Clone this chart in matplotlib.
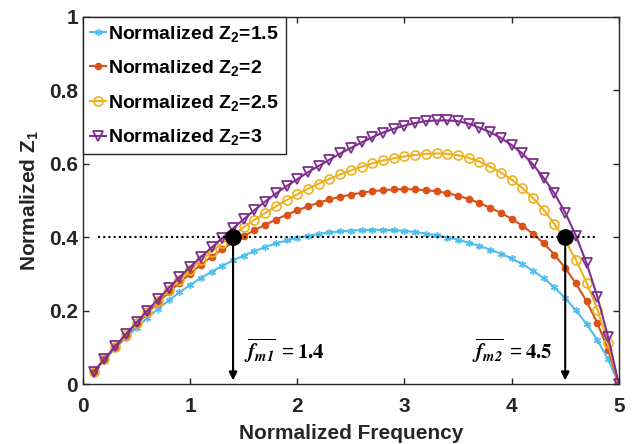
import matplotlib
matplotlib.use("Agg")
import matplotlib.pyplot as plt
import numpy as np

plt.rcParams['font.family'] = ['Liberation Sans', 'DejaVu Sans']
plt.rcParams['mathtext.default'] = 'regular'

freq = [round(0.1 * i, 1) for i in range(1, 51)]

z2_15 = [0.034, 0.066, 0.097, 0.126, 0.154, 0.180, 0.205, 0.228, 0.250, 0.270,
         0.289, 0.306, 0.322, 0.337, 0.350, 0.362, 0.373, 0.383, 0.391, 0.398,
         0.404, 0.409, 0.413, 0.416, 0.418, 0.419, 0.420, 0.420, 0.419, 0.417,
         0.414, 0.410, 0.405, 0.399, 0.393, 0.385, 0.376, 0.366, 0.355, 0.342,
         0.327, 0.309, 0.288, 0.263, 0.234, 0.201, 0.163, 0.120, 0.068, 0.0]

z2_2 = [0.034, 0.067, 0.100, 0.132, 0.163, 0.193, 0.222, 0.250, 0.276, 0.301,
        0.325, 0.347, 0.367, 0.386, 0.403, 0.419, 0.434, 0.448, 0.461, 0.473,
        0.484, 0.494, 0.503, 0.510, 0.516, 0.521, 0.525, 0.528, 0.530, 0.531,
        0.530, 0.528, 0.525, 0.520, 0.513, 0.504, 0.493, 0.480, 0.466, 0.450,
        0.431, 0.409, 0.383, 0.352, 0.316, 0.274, 0.225, 0.166, 0.094, 0.0]

z2_25 = [0.034, 0.068, 0.102, 0.134, 0.166, 0.197, 0.227, 0.256, 0.284, 0.311,
         0.337, 0.361, 0.384, 0.406, 0.427, 0.447, 0.466, 0.484, 0.501, 0.517,
         0.532, 0.546, 0.559, 0.571, 0.582, 0.592, 0.601, 0.609, 0.615, 0.620,
         0.624, 0.627, 0.628, 0.627, 0.623, 0.616, 0.606, 0.592, 0.576, 0.557,
         0.534, 0.506, 0.474, 0.436, 0.391, 0.338, 0.276, 0.203, 0.112, 0.0]

z2_3 = [0.034, 0.068, 0.103, 0.136, 0.168, 0.200, 0.231, 0.262, 0.291, 0.319,
        0.346, 0.372, 0.398, 0.424, 0.449, 0.474, 0.497, 0.519, 0.539, 0.558,
        0.577, 0.594, 0.611, 0.628, 0.643, 0.658, 0.672, 0.685, 0.695, 0.704,
        0.711, 0.716, 0.718, 0.718, 0.716, 0.709, 0.698, 0.686, 0.670, 0.651,
        0.628, 0.598, 0.561, 0.519, 0.467, 0.404, 0.329, 0.238, 0.129, 0.0]

labels = ['Normalized Z$_2$=1.5', 'Normalized Z$_2$=2',
          'Normalized Z$_2$=2.5', 'Normalized Z$_2$=3']
threshold = 0.4
fm1 = 1.4
fm2 = 4.5
xticks = [0, 1, 2, 3, 4, 5]
yticks = [0, 0.2, 0.4, 0.6, 0.8, 1]
ytick_labels = ['0', '0.2', '0.4', '0.6', '0.8', '1']

dark = '#262626'
fig = plt.figure(figsize=(6.34, 4.44), dpi=100)
ax = fig.add_axes([0.131, 0.135, 0.845, 0.827])

ax.plot(freq, z2_15, color='#4DBEEE', lw=1.5, marker=(6, 2, 0), ms=5, mew=1.0,
        label=labels[0])
ax.plot(freq, z2_2, color='#D95319', lw=1.5, marker='o', ms=4.5,
        label=labels[1])
ax.plot(freq, z2_25, color='#EDB120', lw=1.5, marker='o', ms=6.5, mfc='none',
        mew=1.2, label=labels[2])
ax.plot(freq, z2_3, color='#7E2F8E', lw=1.5, marker='v', ms=7.5, mfc='none',
        mew=1.3, label=labels[3])

ax.plot([0.14, 4.8], [threshold, threshold], ls=(0, (1, 1.5)), color='black', lw=1.5)
for f in (fm1, fm2):
    ax.annotate('', xy=(f, 0.01), xytext=(f, threshold),
                arrowprops=dict(arrowstyle='-|>', color='black', lw=1.5,
                                mutation_scale=12, shrinkA=0, shrinkB=0))
    ax.plot([f], [threshold], 'o', color='black', ms=11, zorder=5)

ax.text(1.5, 0.09, r'$\overline{\mathbfit{f}_{\mathbfit{m1}}}\ = \mathbf{1.4}$',
        math_fontfamily='stix', fontsize=15, ha='left', va='center')
ax.text(4.38, 0.09, r'$\overline{\mathbfit{f}_{\mathbfit{m2}}}\ = \mathbf{4.5}$',
        math_fontfamily='stix', fontsize=15, ha='right', va='center')

ax.set_xlim(0, 5)
ax.set_ylim(0, 1)
ax.set_xticks(xticks)
ax.set_yticks(yticks)
ax.set_yticklabels(ytick_labels)
ax.tick_params(direction='in', top=True, right=True, length=4, width=1,
               colors=dark, labelsize=15)
ax.tick_params(axis='x', pad=9)
for lab in ax.get_xticklabels() + ax.get_yticklabels():
    lab.set_fontweight('bold')
for sp in ax.spines.values():
    sp.set_color(dark)
    sp.set_linewidth(1)

ax.set_xlabel('Normalized Frequency', fontsize=15, fontweight='bold', color=dark,
              labelpad=6)
ax.set_ylabel('Normalized Z$_1$', fontsize=15, fontweight='bold', color=dark,
              labelpad=6)

leg = ax.legend(loc='upper left', bbox_to_anchor=(0, 1), borderaxespad=0,
                handlelength=0.85, handletextpad=0.1, labelspacing=0.75,
                borderpad=0.35, fancybox=False, framealpha=1,
                prop={'weight': 'bold', 'size': 14})
leg.get_frame().set_edgecolor(dark)
leg.get_frame().set_linewidth(1)

fig.savefig('out.png', dpi=100)
